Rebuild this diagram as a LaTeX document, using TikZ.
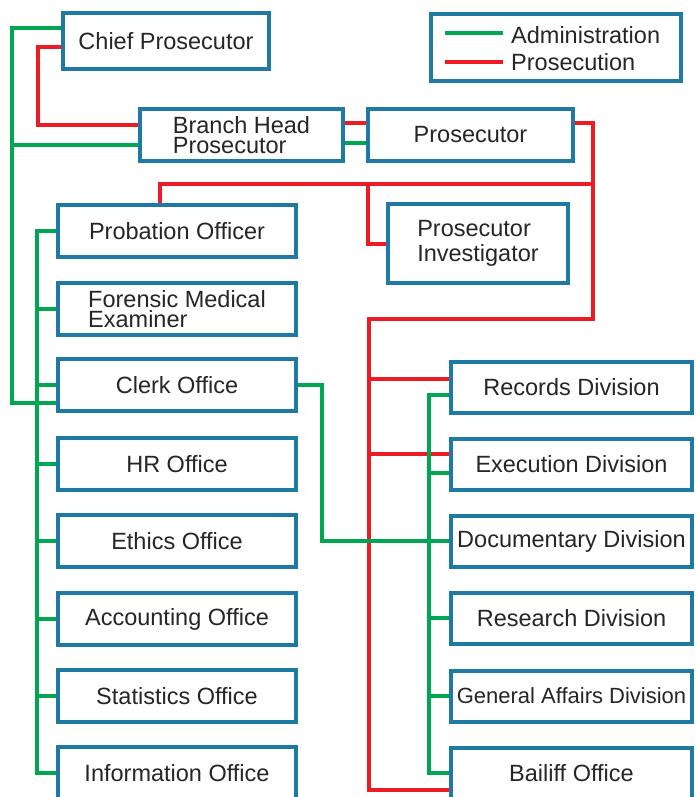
\documentclass[tikz,border=0pt]{standalone}
\usepackage{fontspec}
\setmainfont{Liberation Sans}
\usetikzlibrary{backgrounds}
\definecolor{boxblue}{RGB}{30,122,163}
\definecolor{admgreen}{RGB}{0,166,80}
\definecolor{prored}{RGB}{237,28,36}
\begin{document}
\begin{tikzpicture}[x=1pt,y=-1pt,
  office/.style={draw=boxblue,line width=4pt,fill=white,text=black!85,inner sep=0pt,
    font=\fontsize{23.5}{20.5}\selectfont,minimum height=52pt},
  leftbox/.style={office,minimum width=238pt},
  rightbox/.style={office,minimum width=241pt,minimum height=51pt},
  adminline/.style={draw=admgreen,line width=4pt},
  prosline/.style={draw=prored,line width=4pt}]
\useasboundingbox (0,0) rectangle (696,797);
% top of the chart
\node[office,minimum width=206pt,minimum height=56pt] (chief) at (166,41) {Chief Prosecutor};
\node[office,minimum width=203pt,align=left] (branch) at (241.5,135) {Branch Head\\Prosecutor};
\node[office,minimum width=205pt] (prosecutor) at (470.5,135) {Prosecutor};
\node[office,minimum width=180pt,minimum height=79pt,align=left,font=\fontsize{23.5}{25}\selectfont] (invest) at (478,243.5) {Prosecutor\\Investigator};
% left column
\node[leftbox] (probation) at (177,231) {Probation Officer};
\node[leftbox,align=left] (forensic) at (177,309) {Forensic Medical\\Examiner};
\node[leftbox] (clerk) at (177,385) {Clerk Office};
\node[leftbox] (hr) at (177,464) {HR Office};
\node[leftbox] (ethics) at (177,541) {Ethics Office};
\node[leftbox] (accounting) at (177,619) {Accounting Office};
\node[leftbox] (statistics) at (177,696) {Statistics Office};
\node[leftbox] (information) at (177,773) {Information Office};
% right column
\node[rightbox] (records) at (571.5,387) {Records Division};
\node[rightbox] (execution) at (571.5,464) {Execution Division};
\node[rightbox] (documentary) at (571.5,541) {Documentary Division};
\node[rightbox] (research) at (571.5,618) {Research Division};
\node[rightbox,font=\fontsize{22}{19}\selectfont] (general) at (571.5,696) {General Affairs Division};
\node[rightbox] (bailiff) at (571.5,773) {Bailiff Office};
% legend
\node[office,minimum width=250pt,minimum height=67pt] (legend) at (556,47.5) {};
\node[anchor=west,inner sep=0pt,text=black!85,font=\fontsize{23.5}{19}\selectfont] (admtext) at (511,35) {Administration};
\node[anchor=west,inner sep=0pt,text=black!85,font=\fontsize{23.5}{19}\selectfont] (protext) at (511,62.5) {Prosecution};
\draw[adminline] (445,33)--(503,33);
\draw[prosline] (445,62)--(503,62);
\begin{scope}[on background layer]
% prosecution lines
\coordinate (ra) at (38,125);
\coordinate (rb) at (593,319);
\coordinate (rc) at (369,790);
\coordinate (rd) at (593,184);
\coordinate (re) at (368,184);
\draw[prosline] ([yshift=-6pt]chief.west) -| (ra) -- ([yshift=10pt]branch.west);
\draw[prosline] ([yshift=12pt]branch.east) -- ([yshift=12pt]prosecutor.west);
\draw[prosline] ([yshift=12pt]prosecutor.east) -| (rb) -| (rc) -- ([yshift=-17pt]bailiff.west);
\draw[prosline] (rd) -| ([xshift=-17pt]probation.north);
\draw[prosline] (re) |- (invest.west);
\draw[prosline] ([yshift=8pt]records.west) -| (rc);
\draw[prosline] ([yshift=10pt]execution.west) -| (rc);
% administration lines
\coordinate (ga) at (12,403);
\coordinate (gb) at (37,773);
\coordinate (gc) at (322,541);
\coordinate (gd) at (429,773);
\draw[adminline] ([yshift=13pt]chief.west) -| (ga) -- ([yshift=-18pt]clerk.west);
\draw[adminline] ([yshift=-10pt]branch.west) -| (ga);
\draw[adminline] ([yshift=-8pt]branch.east) -- ([yshift=-8pt]prosecutor.west);
\draw[adminline] (probation.west) -| (gb) -- (information.west);
\foreach \n in {forensic,clerk,hr,ethics,accounting,statistics}
  \draw[adminline] (\n.west) -- (gb |- \n.west);
\draw[adminline] (clerk.east) -| (gc) -- (documentary.west);
\draw[adminline] ([yshift=-8pt]records.west) -| (gd) -- (bailiff.west);
\draw[adminline] ([yshift=-9pt]execution.west) -| (gd);
\foreach \n in {documentary,research,general}
  \draw[adminline] (\n.west) -- (gd |- \n.west);
\end{scope}
\end{tikzpicture}
\end{document}
